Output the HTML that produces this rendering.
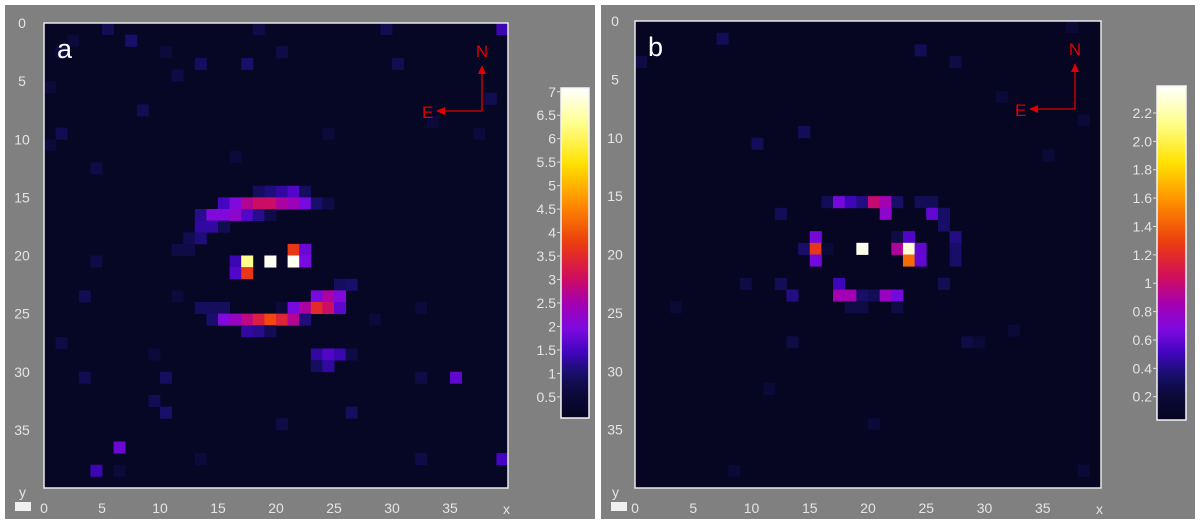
<!DOCTYPE html>
<html><head><meta charset="utf-8"><style>
html,body{margin:0;padding:0;background:#fff;width:1200px;height:525px;overflow:hidden}
svg{display:block}
text{font-family:"Liberation Sans",sans-serif}
</style></head><body>
<svg id="fig" width="1200" height="525"></svg>
<script>
const NS='http://www.w3.org/2000/svg';
const svg=document.getElementById('fig');
// ---- data ----
const gridSize=40;
const tickLabelsXY=[0,5,10,15,20,25,30,35];
const cbTicksA=[0.5,1,1.5,2,2.5,3,3.5,4,4.5,5,5.5,6,6.5,7];
const cbTicksB=[0.2,0.4,0.6,0.8,1,1.2,1.4,1.6,1.8,2.0,2.2];
const cbLabelsB=['0.2','0.4','0.6','0.8','1','1.2','1.4','1.6','1.8','2.0','2.2'];
const rangeA=[0.05,7.08];
const rangeB=[0.036,2.39];
const bgA=0.15, bgB=0.05;
// [col,row,value]
const cellsA=[
[18,14,0.9],[19,14,1.1],[20,14,1.3],[21,14,1.6],[22,14,0.9],
[15,15,1.5],[16,15,2.0],[17,15,2.7],[18,15,3.0],[19,15,3.0],[20,15,2.6],[21,15,2.4],[22,15,1.9],[23,15,1.0],[24,15,0.7],
[13,16,1.2],[14,16,2.0],[15,16,2.0],[16,16,2.2],[17,16,1.6],[18,16,1.2],[19,16,0.7],
[13,17,1.3],[14,17,1.3],[15,17,0.8],[12,18,0.8],[13,18,1.1],[11,19,0.7],[12,19,0.7],
[21,19,3.7],[22,19,1.8],
[16,20,1.4],[17,20,6.3],[19,20,7.0],[21,20,7.0],[22,20,1.9],
[16,21,1.6],[17,21,3.7],
[25,22,0.9],[26,22,1.0],
[23,23,1.9],[24,23,2.6],[25,23,2.0],
[13,24,0.9],[14,24,0.9],[15,24,0.9],[20,24,0.6],[21,24,1.9],[22,24,2.6],[23,24,3.5],[24,24,3.0],[25,24,1.7],
[14,25,1.0],[15,25,2.0],[16,25,2.3],[17,25,2.8],[18,25,3.3],[19,25,3.9],[20,25,3.4],[21,25,2.7],[22,25,1.1],
[17,26,1.3],[18,26,1.2],[19,26,0.8],
[23,28,1.3],[24,28,1.6],[25,28,1.4],[26,28,0.7],[23,29,0.9],[24,29,1.3],
[35,30,1.7],[6,36,1.8],[4,38,1.4],[39,0,1.4],[39,37,1.5],
[7,1,1.0],[17,3,1.0],[13,3,0.9],[10,33,1.0],[9,32,0.8],[26,33,0.9],[10,30,0.9],
[5,0,0.8],[29,0,0.8],[18,0,0.7],[2,1,0.6],[10,2,0.6],[20,2,0.7],[1,2,0.7],[30,3,0.8],[0,5,0.6],[11,4,0.7],
[8,7,0.8],[1,9,0.8],[24,9,0.6],[37,9,0.6],[0,10,0.6],[38,6,0.8],[33,8,0.6],[4,12,0.7],[16,11,0.6],
[3,23,0.8],[11,23,0.6],[32,24,0.6],[1,27,0.7],[3,30,0.8],[4,20,0.7],[9,28,0.6],[32,30,0.7],[20,34,0.7],[13,37,0.6],[6,38,0.6],[32,37,0.7],[28,25,0.6]
];
const cellsB=[
[16,15,0.3],[17,15,0.65],[18,15,0.5],[19,15,0.4],[20,15,1.0],[21,15,0.85],[22,15,0.35],[24,15,0.3],[25,15,0.3],
[12,16,0.3],[21,16,0.75],[25,16,0.6],[26,16,0.35],[26,17,0.35],
[15,18,0.65],[22,18,0.25],[23,18,0.55],[27,18,0.4],
[14,19,0.35],[15,19,1.25],[16,19,0.2],[19,19,2.35],[22,19,0.9],[23,19,2.3],[24,19,0.6],[27,19,0.35],
[15,20,0.65],[23,20,1.45],[24,20,0.6],[27,20,0.35],
[12,22,0.3],[17,22,0.5],[26,22,0.3],[9,22,0.25],
[13,23,0.4],[17,23,0.85],[18,23,0.85],[19,23,0.35],[20,23,0.3],[21,23,0.8],[22,23,0.65],
[18,24,0.25],[19,24,0.25],[22,24,0.25],
[7,1,0.3],[24,2,0.3],[0,3,0.25],[27,3,0.25],[10,10,0.3],[14,9,0.3],[35,11,0.2],[31,6,0.2],[38,8,0.2],
[3,24,0.2],[13,27,0.25],[28,27,0.25],[29,27,0.2],[32,26,0.2],[11,31,0.2],[20,34,0.2],[8,38,0.2],[38,38,0.2],[37,0,0.2]
];
// ---- colormap ----
const stops=[[0,[5,5,32]],[0.08,[12,10,60]],[0.14,[25,15,110]],[0.2,[65,5,190]],[0.27,[125,10,225]],[0.35,[165,0,175]],[0.43,[210,15,90]],[0.53,[235,60,15]],[0.65,[255,140,0]],[0.77,[255,225,0]],[0.89,[255,255,140]],[1,[255,255,255]]];
function cmap(t){t=Math.max(0,Math.min(1,t));
 for(let i=1;i<stops.length;i++){if(t<=stops[i][0]){const a=stops[i-1],b=stops[i];const f=(t-a[0])/(b[0]-a[0]);
 return 'rgb('+a[1].map((c,k)=>Math.round(c+(b[1][k]-c)*f)).join(',')+')';}}return '#fff';}
function el(tag,attrs,parent){const e=document.createElementNS(NS,tag);for(const k in attrs)e.setAttribute(k,attrs[k]);(parent||svg).appendChild(e);return e;}

function panel(o){
 const g=el('g',{});
 
 
 const bg=el('rect',{x:o.gx,y:5,width:o.gw,height:514,fill:'#808080'},g);
 
 
 const cw=(o.r-o.l)/gridSize, ch=(o.b-o.t)/gridSize;
 const xs=c=>o.l+c*cw, ys=r=>o.t+r*ch;
 const norm=v=>(v-o.range[0])/(o.range[1]-o.range[0]);
 const bgc=el('rect',{x:o.l,y:o.t,width:o.r-o.l,height:o.b-o.t,fill:cmap(norm(o.bgv))},g);
 
 
 o.cells.forEach(c=>{
  const r=el('rect',{x:xs(c[0]),y:ys(c[1]),width:cw+0.4,height:ch+0.4,fill:cmap(norm(c[2]))},g);
  
  
 });
 const fr=el('rect',{x:o.l,y:o.t,width:o.r-o.l,height:o.b-o.t,fill:'none',stroke:'#e8e8e8','stroke-width':1.5},g);
 
 
 tickLabelsXY.forEach(v=>{
  const t=el('text',{x:o.ylx,y:ys(v)+5,'text-anchor':'middle','font-size':14,fill:'#e4e4e4'},g);t.textContent=v;
  
  
  const u=el('text',{x:xs(v),y:513,'text-anchor':'middle','font-size':14,fill:'#e4e4e4'},g);u.textContent=v;
  
  
 });
 const yl=el('text',{x:o.ylx-3,y:497,'font-size':14,fill:'#e4e4e4'},g);yl.textContent='y';
 
 
 const xl=el('text',{x:o.r-5,y:514,'font-size':14,fill:'#e4e4e4'},g);xl.textContent='x';
 
 
 const cb=el('rect',{x:o.gx+10,y:502,width:16,height:9,fill:'#f0f0f0'},g);
 
 
 const lt=el('text',{x:o.l+13,y:o.t+35,'font-size':27,fill:'#fff'},g);lt.textContent=o.id;
 
 
 // compass
 const ax=o.r-26, ay=o.t+88;
 const cp=el('g',{},g);
 
 
 el('path',{d:`M${ax} ${ay} V${ay-38} M${ax} ${ay} H${ax-38}`,stroke:'#e00000','stroke-width':1.3,fill:'none'},cp);
 el('path',{d:`M${ax-4} ${ay-37} L${ax} ${ay-46} L${ax+4} ${ay-37}Z M${ax-37} ${ay-4} L${ax-46} ${ay} L${ax-37} ${ay+4}Z`,fill:'#e00000'},cp);
 const n=el('text',{x:ax,y:ay-54,'text-anchor':'middle','font-size':17,fill:'#e00000'},cp);n.textContent='N';
 const e=el('text',{x:ax-60,y:ay+7,'font-size':17,fill:'#e00000'},cp);e.textContent='E';
 // colorbar
 const cg=el('g',{},g);
 
 
 const defs=el('defs',{},cg);
 const lg=el('linearGradient',{id:'grad'+o.id,x1:0,y1:1,x2:0,y2:0},defs);
 for(let i=0;i<=40;i++){el('stop',{offset:i/40,'stop-color':cmap(i/40)},lg);}
 el('rect',{x:o.cbx,y:o.cbt,width:o.cbw,height:o.cbb-o.cbt,fill:'url(#grad'+o.id+')',stroke:'#f4f4f4','stroke-width':1.5},cg);
 const cy=v=>o.cbb-(v-o.range[0])/(o.range[1]-o.range[0])*(o.cbb-o.cbt);
 o.cbTicks.forEach((v,i)=>{
  el('line',{x1:o.cbx-4,x2:o.cbx,y1:cy(v),y2:cy(v),stroke:'#e0e0e0'},cg);
  const t=el('text',{x:o.cbx-5,y:cy(v)+5,'text-anchor':'end','font-size':14,fill:'#e4e4e4'},cg);
  t.textContent=o.cbLabels?o.cbLabels[i]:v;
  
  
 });
}
panel({id:'a',gx:5,gw:590,l:44,t:23,r:508,b:488,ylx:22,cells:cellsA,range:rangeA,bgv:bgA,cbx:561,cbw:28,cbt:88,cbb:418,cbTicks:cbTicksA});
panel({id:'b',gx:601,gw:594,l:635,t:21,r:1101,b:488,ylx:615,cells:cellsB,range:rangeB,bgv:bgB,cbx:1157,cbw:29,cbt:86,cbb:420,cbTicks:cbTicksB,cbLabels:cbLabelsB});
</script>
</body></html>
